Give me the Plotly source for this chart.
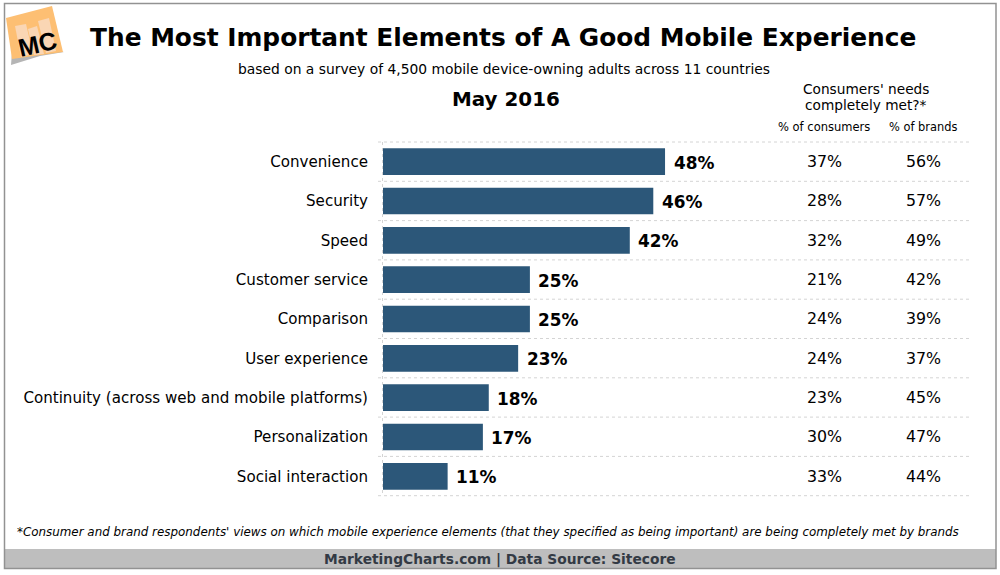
import plotly.graph_objects as go

categories = ["Convenience", "Security", "Speed", "Customer service", "Comparison", "User experience",
              "Continuity (across web and mobile platforms)", "Personalization", "Social interaction"]
importance = [48, 46, 42, 25, 25, 23, 18, 17, 11]
consumers = [37, 28, 32, 21, 24, 24, 23, 30, 33]
brands = [56, 57, 49, 42, 39, 37, 45, 47, 44]

W, H = 1000, 575
FONT = "DejaVu Sans"
BAR = "#2c5779"
px = lambda x: x / W
py = lambda y: 1 - y / H

fig = go.Figure(go.Bar(
    y=categories, x=importance, orientation="h", marker=dict(color=BAR, line_width=0),
    width=0.68, hoverinfo="skip"))

ann = []
def T(x, y, s, size, anchor="center", **kw):
    ann.append(dict(xref="paper", yref="paper", x=px(x), y=py(y), text=s, showarrow=False,
                    xanchor=anchor, yanchor="middle", font=dict(family=FONT, size=size, color=kw.get("color", "black"))))

T(503, 37, "<b>The Most Important Elements of A Good Mobile Experience</b>", 24.85)
T(504, 69, "based on a survey of 4,500 mobile device-owning adults across 11 countries", 13.85)
T(506, 99, "<b>May 2016</b>", 19.9)
T(866, 89, "Consumers' needs", 13.7)
T(866, 105, "completely met?*", 13.7)
T(824, 127, "% of consumers", 11.5)
T(923, 127, "% of brands", 11.4)
T(488, 532, "<i>*Consumer and brand respondents' views on which mobile experience elements (that they specified as being important) are being completely met by brands</i>", 11.9)
T(500, 559, "<b>MarketingCharts.com | Data Source: Sitecore</b>", 13.8, color="#333a44")

y0, step = 142.0, 39.3
for i, (c, b) in enumerate(zip(consumers, brands)):
    yc = y0 + step * (i + 0.5)
    T(824.5, yc, f"{c}%", 15.8)
    T(923, yc, f"{b}%", 15.8)

for cat, v in zip(categories, importance):
    ann.append(dict(xref="x", yref="y", x=v, y=cat, text=f"<b>{v}%</b>", showarrow=False, xanchor="left",
                    yanchor="middle", xshift=6.5, yshift=-1, font=dict(family=FONT, size=16.9, color="black")))

shapes = []
for i in range(10):
    yy = y0 + step * i
    shapes.append(dict(type="line", xref="paper", yref="paper", x0=px(378), x1=px(970), y0=py(yy), y1=py(yy),
                       line=dict(color="#d4d4d4", width=1, dash="dot"), layer="below"))
shapes.append(dict(type="line", xref="paper", yref="paper", x0=px(382.5), x1=px(382.5), y0=py(142), y1=py(496),
                   line=dict(color="#d4d4d4", width=1, dash="dot"), layer="below"))
# footer band and outer frame
shapes.append(dict(type="rect", xref="paper", yref="paper", x0=px(4), x1=px(996), y0=py(549), y1=py(568.5),
                   fillcolor="#bebebe", line_width=0, layer="below"))
shapes.append(dict(type="rect", xref="paper", yref="paper", x0=px(4.5), x1=px(996), y0=py(3.5), y1=py(568.5),
                   fillcolor="rgba(0,0,0,0)", line=dict(color="#929292", width=1.5), layer="below"))

# logo
def poly(points, fill):
    d = "M" + " L".join(f"{px(x)},{py(y)}" for x, y in points) + " Z"
    shapes.append(dict(type="path", xref="paper", yref="paper", path=d, fillcolor=fill, line_width=0, layer="below"))
poly([(11, 65), (13, 40), (64, 52), (40, 56)], "#b5b5b5")
poly([(6, 18), (52, 6), (63, 52), (12, 59)], "#fdbf73")
poly([(15, 26), (26, 24), (33, 54), (21, 57)], "#fad6b4")
poly([(28, 29), (37, 26), (44, 54), (34, 55)], "#fad6b4")
poly([(38, 21), (49, 18), (56, 51), (46, 53)], "#fad6b4")
ann.append(dict(xref="paper", yref="paper", x=px(37), y=py(44), text="<b>MC</b>", showarrow=False, textangle=-13,
                xanchor="center", yanchor="middle", font=dict(family="Liberation Sans", size=25, color="black")))

fig.update_layout(
    width=W, height=H, autosize=False, margin=dict(l=0, r=0, t=0, b=0),
    paper_bgcolor="white", plot_bgcolor="rgba(0,0,0,0)", showlegend=False,
    xaxis=dict(domain=[px(383), px(970)], range=[0, 99.9], visible=False, fixedrange=True),
    yaxis=dict(domain=[py(496), py(142)], autorange="reversed", showgrid=False, zeroline=False, showline=False,
               ticks="", ticklabelstandoff=14, tickfont=dict(family=FONT, size=15.1, color="black"), fixedrange=True),
    annotations=ann, shapes=shapes, font=dict(family=FONT))
fig.write_html("out.html", config=dict(displayModeBar=False),
               post_script="document.body.style.margin='0';")
